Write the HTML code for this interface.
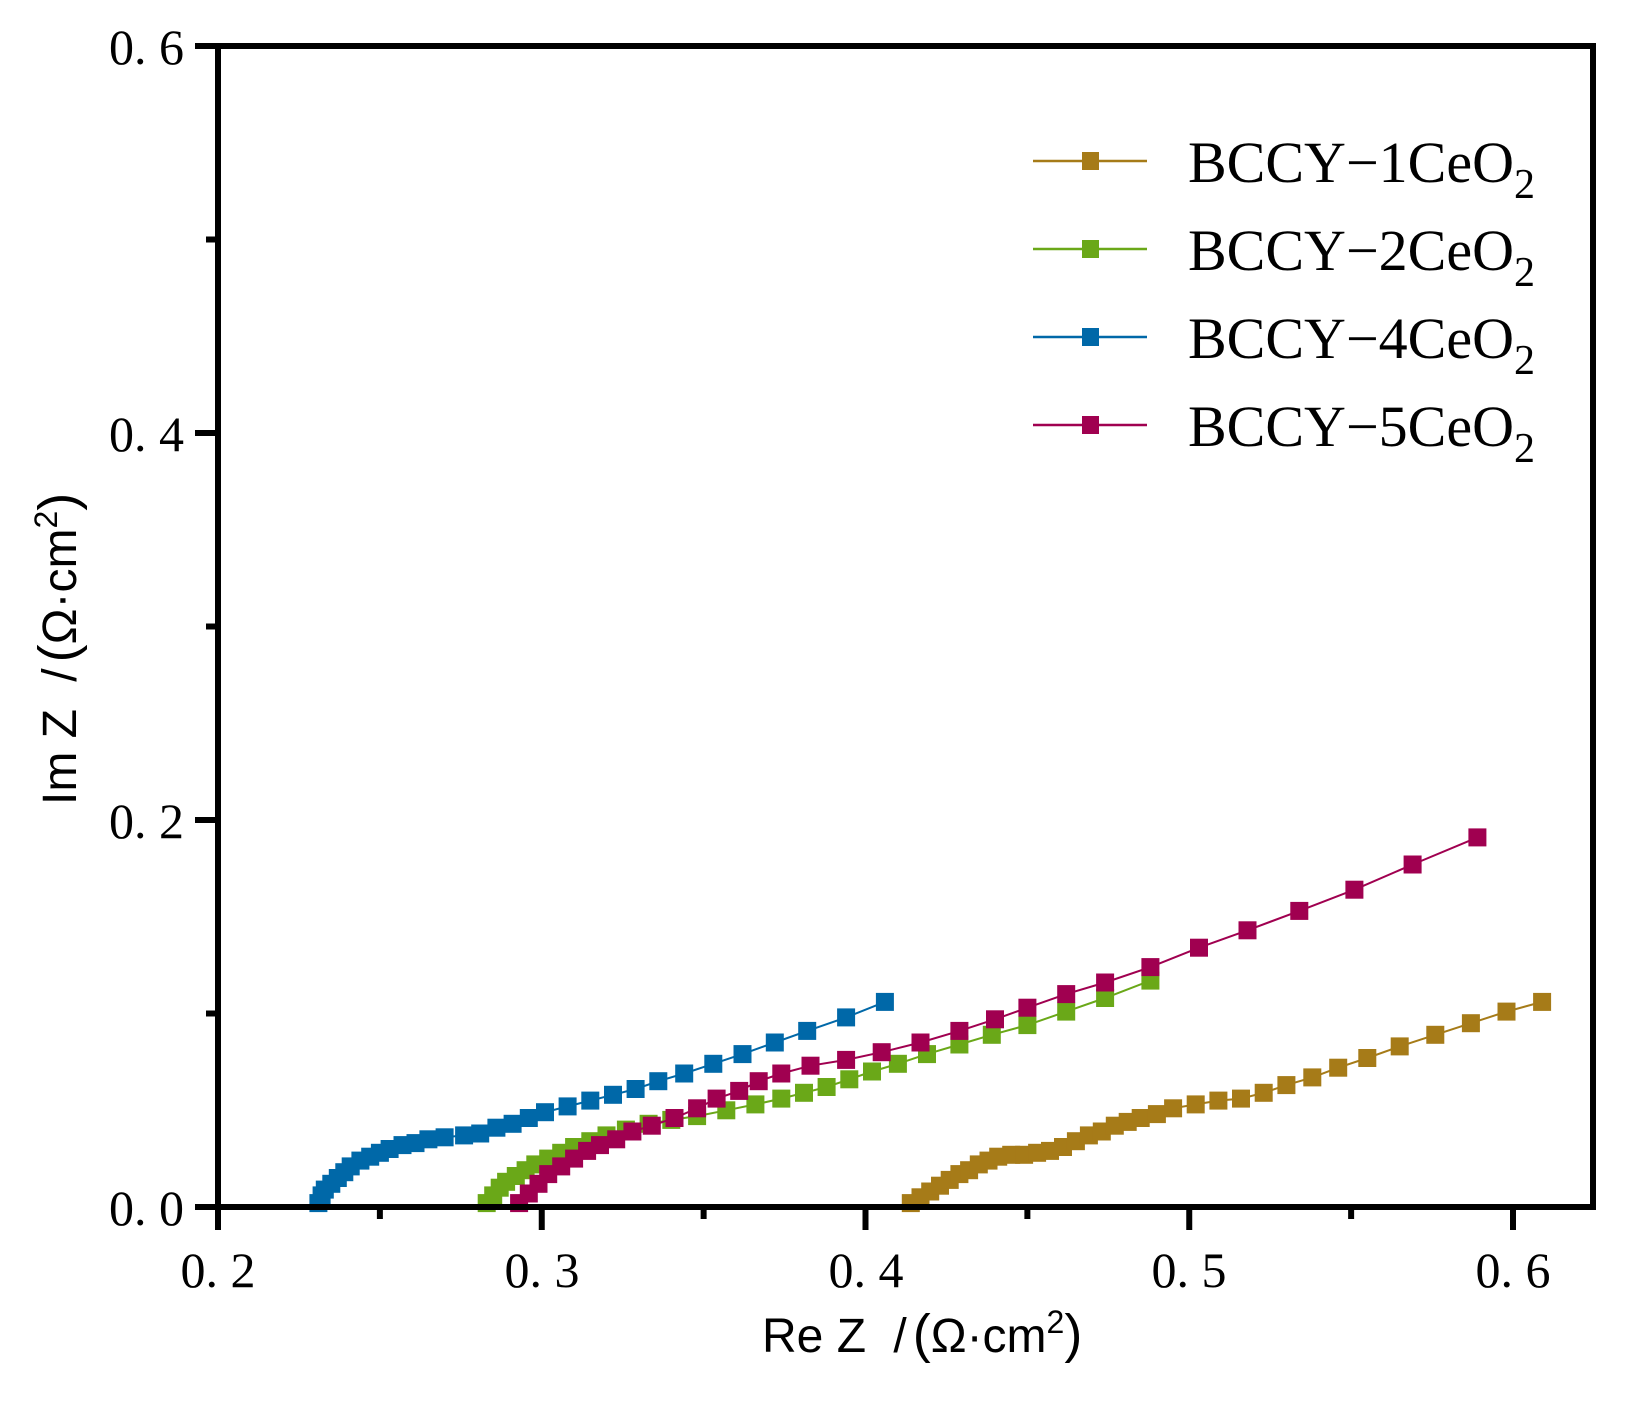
<!DOCTYPE html>
<html><head><meta charset="utf-8"><style>
html,body{margin:0;padding:0;background:#fff;}
svg{display:block;}
.t{font-family:"Liberation Serif",serif;font-size:50px;fill:#000;}
.s{font-family:"Liberation Sans",sans-serif;font-size:48px;fill:#000;}
.l{font-family:"Liberation Serif",serif;font-size:58px;fill:#000;}
</style></head><body>
<svg id="c" width="1632" height="1406" viewBox="0 0 1632 1406" xmlns="http://www.w3.org/2000/svg">
<g id="data"></g>
<g stroke="#000" stroke-width="6" fill="none">
<rect x="218" y="46" width="1375" height="1161"/>
</g>
<g id="ticks" stroke="#000" stroke-width="6"></g>
<g class="t" text-anchor="middle">
<text x="218" y="1287">0. 2</text>
<text x="542" y="1287">0. 3</text>
<text x="866" y="1287">0. 4</text>
<text x="1189" y="1287">0. 5</text>
<text x="1513" y="1287">0. 6</text>
</g>
<g class="t" text-anchor="end">
<text x="184" y="1225">0. 0</text>
<text x="184" y="838">0. 2</text>
<text x="184" y="451">0. 4</text>
<text x="184" y="64">0. 6</text>
</g>
<text class="s" x="762" y="1352">Re Z <tspan dx="14">/</tspan><tspan dx="6" font-size="54">(</tspan>Ω·cm<tspan font-size="32" dy="-19">2</tspan><tspan dy="19" font-size="54">)</tspan></text>
<text class="s" transform="translate(76,805) rotate(-90)">Im Z <tspan dx="14">/</tspan><tspan dx="6" font-size="54">(</tspan>Ω·cm<tspan font-size="32" dy="-19">2</tspan><tspan dy="19" font-size="54">)</tspan></text>
<g id="leg"></g>
</svg>
<script>
var X=function(v){return 218+(v-0.2)*3237.5;},Y=function(v){return 1207-v*1935;};
var series=[
["#a67b18",[[0.414,0.002],[0.417,0.005],[0.420,0.008],[0.423,0.011],[0.426,0.014],[0.429,0.017],[0.432,0.019],[0.435,0.022],[0.438,0.024],[0.441,0.026],[0.445,0.027],[0.449,0.027],[0.453,0.028],[0.457,0.029],[0.461,0.031],[0.465,0.034],[0.469,0.037],[0.473,0.039],[0.477,0.042],[0.481,0.044],[0.485,0.046],[0.490,0.048],[0.495,0.051],[0.502,0.053],[0.509,0.055],[0.516,0.056],[0.523,0.059],[0.530,0.063],[0.538,0.067],[0.546,0.072],[0.555,0.077],[0.565,0.083],[0.576,0.089],[0.587,0.095],[0.598,0.101],[0.609,0.106]]],
["#6aa818",[[0.283,0.002],[0.285,0.006],[0.287,0.010],[0.289,0.013],[0.292,0.016],[0.295,0.019],[0.298,0.022],[0.302,0.025],[0.306,0.028],[0.310,0.031],[0.315,0.034],[0.320,0.037],[0.326,0.040],[0.333,0.043],[0.340,0.045],[0.348,0.047],[0.357,0.050],[0.366,0.053],[0.374,0.056],[0.381,0.059],[0.388,0.062],[0.395,0.066],[0.402,0.070],[0.410,0.074],[0.419,0.079],[0.429,0.084],[0.439,0.089],[0.450,0.094],[0.462,0.101],[0.474,0.108],[0.488,0.117]]],
["#0068a8",[[0.231,0.002],[0.232,0.006],[0.233,0.009],[0.235,0.012],[0.237,0.015],[0.239,0.018],[0.241,0.021],[0.244,0.024],[0.247,0.026],[0.250,0.028],[0.253,0.030],[0.257,0.032],[0.261,0.033],[0.265,0.035],[0.270,0.036],[0.276,0.037],[0.281,0.038],[0.286,0.041],[0.291,0.043],[0.296,0.046],[0.301,0.049],[0.308,0.052],[0.315,0.055],[0.322,0.058],[0.329,0.061],[0.336,0.065],[0.344,0.069],[0.353,0.074],[0.362,0.079],[0.372,0.085],[0.382,0.091],[0.394,0.098],[0.406,0.106]]],
["#a00050",[[0.293,0.002],[0.296,0.007],[0.299,0.012],[0.302,0.017],[0.306,0.021],[0.310,0.025],[0.314,0.029],[0.318,0.032],[0.323,0.035],[0.328,0.039],[0.334,0.042],[0.341,0.046],[0.348,0.051],[0.354,0.056],[0.361,0.060],[0.367,0.065],[0.374,0.069],[0.383,0.073],[0.394,0.076],[0.405,0.080],[0.417,0.085],[0.429,0.091],[0.440,0.097],[0.450,0.103],[0.462,0.110],[0.474,0.116],[0.488,0.124],[0.503,0.134],[0.518,0.143],[0.534,0.153],[0.551,0.164],[0.569,0.177],[0.589,0.191]]]
];
var h="";
series.forEach(function(s){
 var pts=s[1].map(function(p){return X(p[0]).toFixed(1)+","+Y(p[1]).toFixed(1);}).join(" ");
 h+='<polyline points="'+pts+'" fill="none" stroke="'+s[0]+'" stroke-width="2"/>';
 s[1].forEach(function(p){h+='<rect x="'+(X(p[0])-9).toFixed(1)+'" y="'+(Y(p[1])-9).toFixed(1)+'" width="18" height="18" fill="'+s[0]+'"/>';});
});
document.getElementById("data").innerHTML=h;
var t="";
for(var i=0;i<=8;i++){var x=218+i*161.875;var L=(i%2==0)?23:12;t+='<line x1="'+x+'" y1="1207" x2="'+x+'" y2="'+(1207+L)+'"/>';}
for(var j=0;j<=6;j++){var y=1207-j*193.5;var L2=(j%2==0)?23:12;t+='<line x1="218" y1="'+y+'" x2="'+(218-L2)+'" y2="'+y+'"/>';}
document.getElementById("ticks").innerHTML=t;
var names=["1","2","4","5"],lg="";
for(var k=0;k<4;k++){var yy=161+k*88,c=series[k][0];
 lg+='<line x1="1033" y1="'+yy+'" x2="1147" y2="'+yy+'" stroke="'+c+'" stroke-width="2.5"/>';
 lg+='<rect x="1082" y="'+(yy-9)+'" width="17" height="18" fill="'+c+'"/>';
 lg+='<text class="l" x="1188" y="'+(yy+21)+'">BCCY−'+names[k]+'CeO<tspan font-size="42" dy="16">2</tspan></text>';}
document.getElementById("leg").innerHTML=lg;
</script>
</body></html>
